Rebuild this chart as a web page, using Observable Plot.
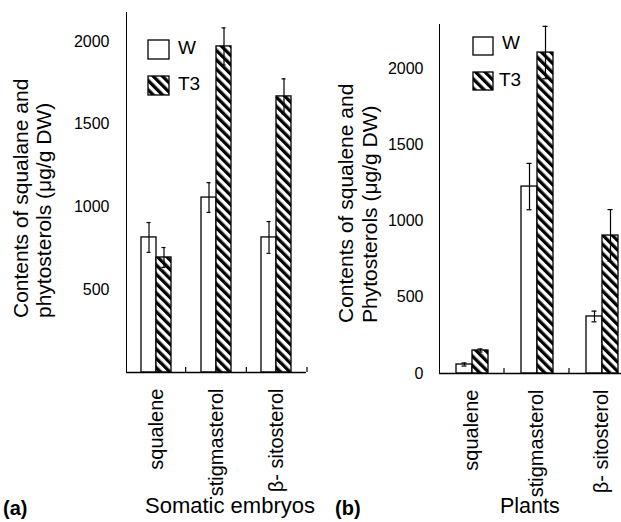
<!DOCTYPE html>
<html>
<head>
<meta charset="utf-8">
<script src="https://cdn.jsdelivr.net/npm/d3@7"></script>
<script src="https://cdn.jsdelivr.net/npm/@observablehq/plot@0.6"></script>
<style>
  html, body { margin: 0; padding: 0; width: 621px; height: 522px; overflow: hidden; background: white; }
  #wrap { position: relative; width: 621px; height: 522px; font-family: "Liberation Sans", Arial, sans-serif; }
  .panel { position: absolute; top: 0; }
  #overlay { position: absolute; left: 0; top: 0; pointer-events: none; }
</style>
</head>
<body>
<div id="wrap">
  <div id="panelA" class="panel" style="left:0px"></div>
  <div id="panelB" class="panel" style="left:310px"></div>
  <svg id="overlay" width="621" height="522"></svg>
</div>
<script>
// ---------- data ----------
const categories = ["squalene", "stigmasterol", "β- sitosterol"];
const series = ["W", "T3"];

// (a) Somatic embryos, µg/g DW
const embryoW = [816, 1057, 816];
const embryoWErr = [90, 90, 96];
const embryoT3 = [695, 1970, 1668];
const embryoT3Err = [60, 112, 106];

// (b) Plants, µg/g DW
const plantW = [59, 1226, 374];
const plantWErr = [10, 152, 35];
const plantT3 = [151, 2105, 905];
const plantT3Err = [10, 172, 170];

const ticksA = [500, 1000, 1500, 2000];
const ticksB = [0, 500, 1000, 1500, 2000];

const yTitleA = ["Contents of squalane and", "phytosterols (μg/g DW)"];
const yTitleB = ["Contents of squalene and", "Phytosterols (μg/g DW)"];
const panelTags = ["(a)", "(b)"];
const panelTitles = ["Somatic embryos", "Plants"];

function makeRows(wVals, wErr, tVals, tErr) {
  const rows = [];
  categories.forEach((c, i) => {
    rows.push({cat: c, series: series[0], value: wVals[i], err: wErr[i]});
    rows.push({cat: c, series: series[1], value: tVals[i], err: tErr[i]});
  });
  return rows;
}
const dataA = makeRows(embryoW, embryoWErr, embryoT3, embryoT3Err);
const dataB = makeRows(plantW, plantWErr, plantT3, plantT3Err);

// ---------- hatch pattern (shared) ----------
const overlay = d3.select("#overlay");
const defs = overlay.append("defs");
const pat = defs.append("pattern")
  .attr("id", "hatch")
  .attr("patternUnits", "userSpaceOnUse")
  .attr("width", 6.6).attr("height", 6.6)
  .attr("patternTransform", "rotate(-45)");
pat.append("rect").attr("width", 6.6).attr("height", 6.6).attr("fill", "white");
pat.append("rect").attr("width", 3.3).attr("height", 6.6).attr("fill", "black");

const fills = {W: "white", T3: "url(#hatch)"};

function panel(data, opts) {
  const {width, height, marginLeft, marginRight, marginTop, marginBottom, yMax, ticks, tickPadding, xPadOuter} = opts;
  const plot = Plot.plot({
    width, height, marginLeft, marginRight, marginTop, marginBottom,
    style: {
      fontFamily: "'Liberation Sans', Arial, sans-serif",
      fontSize: "16px",
      color: "black",
      background: "transparent",
      overflow: "visible",
      maxWidth: "none"
    },
    facet: {data, x: "cat"},
    fx: {domain: categories, padding: 0, label: null, axis: "bottom", tickRotate: -90, tickSize: 0, tickPadding: 16},
    x: {domain: series, axis: null, paddingInner: 0, paddingOuter: xPadOuter},
    y: {domain: [0, yMax], ticks, tickFormat: d => String(d), tickSize: 0, tickPadding, line: true, label: null},
    marks: [
      Plot.barY(data, {filter: d => d.series === series[0], x: "series", y: "value", fill: fills[series[0]], stroke: "black", strokeWidth: 1.3, insetLeft: 0, insetRight: 0}),
      Plot.barY(data, {filter: d => d.series === series[1], x: "series", y: "value", fill: fills[series[1]], stroke: "black", strokeWidth: 1.3, insetLeft: 0, insetRight: 0}),
      Plot.ruleX(data, {x: "series", y1: d => d.value - d.err, y2: d => d.value + d.err, stroke: "black", strokeWidth: 1.2}),
      Plot.tickY(data, {x: "series", y: d => d.value + d.err, stroke: "black", strokeWidth: 1.2, insetLeft: 5.5, insetRight: 5.5}),
      Plot.tickY(data, {x: "series", y: d => d.value - d.err, stroke: "black", strokeWidth: 1.2, insetLeft: 5.5, insetRight: 5.5}),
      Plot.ruleY([0], {stroke: "black", strokeWidth: 1.3})
    ]
  });
  const svg = plot.tagName.toLowerCase() === "svg" ? plot : plot.querySelector("svg");
  // category label size
  d3.select(svg).selectAll('[aria-label^="fx-axis"] text').style("font-size", "20px");
  // small boundary ticks along the baseline, from the y scale and the band layout
  let yApply;
  try { yApply = Plot.scale({y: plot.scale("y")}).apply; } catch (e) { yApply = null; }
  const yLin = d3.scaleLinear([0, yMax], [height - marginBottom, marginTop]);
  const y0 = yApply ? yApply(0) : yLin(0);
  const band = d3.scaleBand(categories, [marginLeft, width - marginRight]);
  d3.select(svg).append("g")
    .selectAll("line").data(categories).join("line")
    .attr("x1", d => band(d) + band.bandwidth())
    .attr("x2", d => band(d) + band.bandwidth())
    .attr("y1", y0).attr("y2", y0 - 5)
    .attr("stroke", "black").attr("stroke-width", 1.2);
  return plot;
}

const plotA = panel(dataA, {width: 310, height: 490, marginLeft: 125, marginRight: 3, marginTop: 12, marginBottom: 118, yMax: 2175, ticks: ticksA, tickPadding: 17, xPadOuter: 0.95});
const plotB = panel(dataB, {width: 324, height: 490, marginLeft: 129, marginRight: 0, marginTop: 24, marginBottom: 117, yMax: 2289, ticks: ticksB, tickPadding: 16, xPadOuter: 0.97});
document.getElementById("panelA").appendChild(plotA);
document.getElementById("panelB").appendChild(plotB);

// ---------- text overlay: y titles, legends, panel labels ----------
const ff = "'Liberation Sans', Arial, sans-serif";
function yTitle(lines, xs, y) {
  lines.forEach((t, i) => {
    overlay.append("text")
      .attr("transform", `translate(${xs[i]},${y}) rotate(-90)`)
      .attr("font-family", ff).attr("font-size", 21).attr("fill", "black")
      .text(t);
  });
}
yTitle(yTitleA, [28, 51], 318);
yTitle(yTitleB, [353, 377], 323);

function legend(x, ys, textX, textYs, w, h) {
  series.forEach((s, i) => {
    overlay.append("rect").attr("x", x).attr("y", ys[i]).attr("width", w).attr("height", h)
      .attr("fill", fills[s]).attr("stroke", "black").attr("stroke-width", 1.3);
    overlay.append("text").attr("x", textX[i]).attr("y", textYs[i])
      .attr("font-family", ff).attr("font-size", 19).attr("fill", "black").text(s);
  });
}
legend(148, [40, 76], [178, 178], [54, 90], 21, 19);
legend(473, [37, 72], [502, 499], [49, 86], 20, 18);

overlay.append("text").attr("x", 3).attr("y", 515).attr("font-family", ff).attr("font-size", 20).attr("font-weight", "bold").text(panelTags[0]);
overlay.append("text").attr("x", 335).attr("y", 515).attr("font-family", ff).attr("font-size", 20).attr("font-weight", "bold").text(panelTags[1]);
overlay.append("text").attr("x", 145).attr("y", 513).attr("font-family", ff).attr("font-size", 22).text(panelTitles[0]);
overlay.append("text").attr("x", 500).attr("y", 513).attr("font-family", ff).attr("font-size", 21.5).text(panelTitles[1]);
</script>
</body>
</html>
